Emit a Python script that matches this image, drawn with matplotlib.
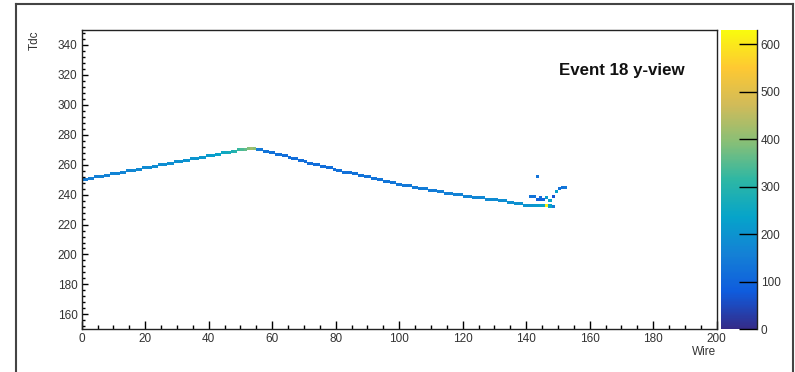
import numpy as np
import matplotlib
matplotlib.use('Agg')
import matplotlib.pyplot as plt
from matplotlib.colors import LinearSegmentedColormap

plt.rcParams['font.family'] = ['Liberation Sans', 'DejaVu Sans']

# main track: tdc value hit on each wire
track_wires = list(range(0, 148))
track_tdc = [249, 249, 250, 250, 251, 251, 251, 252, 252, 253, 253, 253, 254, 254, 255, 255,
             255, 256, 256, 257, 257, 257, 258, 258, 259, 259, 259, 260, 260, 261, 261, 261,
             262, 262, 263, 263, 263, 264, 264, 265, 265, 265, 266, 266, 267, 267, 267, 268,
             268, 269, 269, 269, 270, 270, 270,
             269, 269, 268, 268, 267, 267, 266, 266, 265, 265, 264, 263, 263, 262, 262, 261,
             260, 260, 259, 259, 258, 258, 257, 257, 256, 255, 255, 254, 254, 254, 253, 253,
             252, 252, 251, 251, 250, 250, 249, 249, 248, 248, 247, 247, 246, 246, 245, 245,
             245, 244, 244, 243, 243, 243, 242, 242, 242, 241, 241, 240, 240, 240, 239, 239,
             239, 238, 238, 238, 237, 237, 237, 237, 236, 236, 236, 236, 235, 235, 235, 234,
             234, 233, 233, 233, 232, 232, 232, 232, 232, 232, 232, 232, 232]
track_charge = [150, 150, 155, 155, 155, 160, 160, 160, 160, 165, 165, 165, 165, 170, 170, 170,
                175, 175, 175, 180, 180, 180, 180, 185, 185, 185, 190, 190, 190, 190, 195, 195,
                195, 200, 200, 200, 205, 205, 210, 215, 220, 225, 230, 240, 250, 260, 270, 285,
                300, 320, 340, 360, 390, 420, 400,
                150, 140, 135, 130, 130, 125, 125, 125, 120, 120, 120, 120, 120, 120, 120, 120,
                120, 120, 120, 120, 120, 120, 120, 120, 120, 125, 125, 125, 125, 125, 125, 130,
                130, 130, 130, 130, 130, 130, 130, 135, 135, 135, 135, 140, 140, 140, 140, 140,
                145, 145, 145, 145, 150, 150, 150, 150, 150, 155, 155, 155, 155, 160, 160, 160,
                160, 165, 165, 165, 170, 170, 170, 175, 175, 180, 180, 180, 185, 185, 190, 190,
                190, 195, 195, 195, 200, 200, 200, 210, 220, 230, 240, 620, 230]

# scattered hits near the end of the track (wire, tdc, charge)
extra_wire = [143, 141, 142, 143, 144, 145, 144, 146, 147, 148, 149, 150, 151, 152, 147, 148]
extra_tdc = [251, 238, 238, 236, 236, 236, 237, 237, 235, 238, 241, 243, 244, 244, 231, 231]
extra_charge = [130, 130, 130, 90, 90, 100, 110, 220, 240, 70, 230, 130, 130, 140, 250, 150]

# ROOT kBird palette
bird_stops = [0.0, 0.125, 0.25, 0.375, 0.5, 0.625, 0.75, 0.875, 1.0]
bird_r = [0.2082, 0.0592, 0.0780, 0.0232, 0.1802, 0.5301, 0.8186, 0.9956, 0.9764]
bird_g = [0.1664, 0.3599, 0.5041, 0.6419, 0.7178, 0.7492, 0.7328, 0.7862, 0.9832]
bird_b = [0.5293, 0.8684, 0.8385, 0.7914, 0.6425, 0.4662, 0.3499, 0.1968, 0.0539]
bird = LinearSegmentedColormap.from_list(
    'bird', list(zip(bird_stops, zip(bird_r, bird_g, bird_b))))

# fill the 2D histogram: 200 wires x 200 tdc bins (150..350)
H = np.zeros((200, 200))
for w, t, q in zip(track_wires, track_tdc, track_charge):
    H[t - 150, w] = q
    H[t - 149, w] = q
for w, t, q in zip(extra_wire, extra_tdc, extra_charge):
    H[t - 150, w] = q
    if H[t - 149, w] == 0:
        H[t - 149, w] = q
H = np.ma.masked_equal(H, 0)

fig = plt.figure(figsize=(7.95, 3.72), dpi=100)
ax = fig.add_axes([81.7 / 795, 1 - 329.3 / 372, 635 / 795, 299.3 / 372])
xe = np.arange(0, 201)
ye = np.arange(150, 351)
mesh = ax.pcolormesh(xe, ye, H, cmap=bird, vmin=0, vmax=630)
ax.set_xlim(0, 200)
ax.set_ylim(150, 350)
ax.set_xticks(np.arange(0, 201, 20))
ax.set_xticks(np.arange(0, 201, 5), minor=True)
ax.set_yticks(np.arange(160, 341, 20))
ax.set_yticks(np.arange(152, 350, 4), minor=True)
ax.tick_params(which='both', direction='in', top=False, right=False,
               labelsize=8.5, labelcolor='#333333', width=1.0)
ax.tick_params(axis='x', which='major', length=6, pad=3)
ax.tick_params(axis='x', which='minor', length=3)
ax.tick_params(axis='y', which='major', length=4.5, pad=3)
ax.tick_params(axis='y', which='minor', length=2.2)
for s in ax.spines.values():
    s.set_linewidth(1.0)
    s.set_color('#222222')

fig.text(35 / 795, 1 - 30 / 372, 'Tdc', rotation=90, ha='center', va='top',
         fontsize=8.5, color='#333333')
fig.text(716 / 795, 1 - 352 / 372, 'Wire', ha='right', va='center',
         fontsize=8.5, color='#333333')
fig.text(559 / 795, 1 - 75 / 372, 'Event 18 y-view', ha='left', va='baseline',
         fontsize=12.2, fontweight='bold', color='#111111')

# palette axis
cax = fig.add_axes([721 / 795, 1 - 329.3 / 372, 35.7 / 795, 299.3 / 372])
cb = fig.colorbar(mesh, cax=cax)
cb.outline.set_visible(False)
cb.set_ticks(np.arange(0, 601, 100))
cax.tick_params(direction='in', length=13, width=1.0, labelsize=8.5,
                labelcolor='#333333', pad=3)
cax.minorticks_off()
cax.plot([1, 1], [0, 1], transform=cax.transAxes, color='#222222', lw=1.0,
         clip_on=False)

# screenshot frame
fr = dict(color='#444444', lw=1.5, transform=fig.transFigure, clip_on=False)
fig.add_artist(plt.Line2D([15.5 / 795, 15.5 / 795], [0, 1 - 3.5 / 372], **fr))
fig.add_artist(plt.Line2D([15.5 / 795, 792.5 / 795], [1 - 3.5 / 372, 1 - 3.5 / 372], **fr))
fig.add_artist(plt.Line2D([792.5 / 795, 792.5 / 795], [0, 1 - 3.5 / 372], **fr))

fig.savefig('out.png', dpi=100)
